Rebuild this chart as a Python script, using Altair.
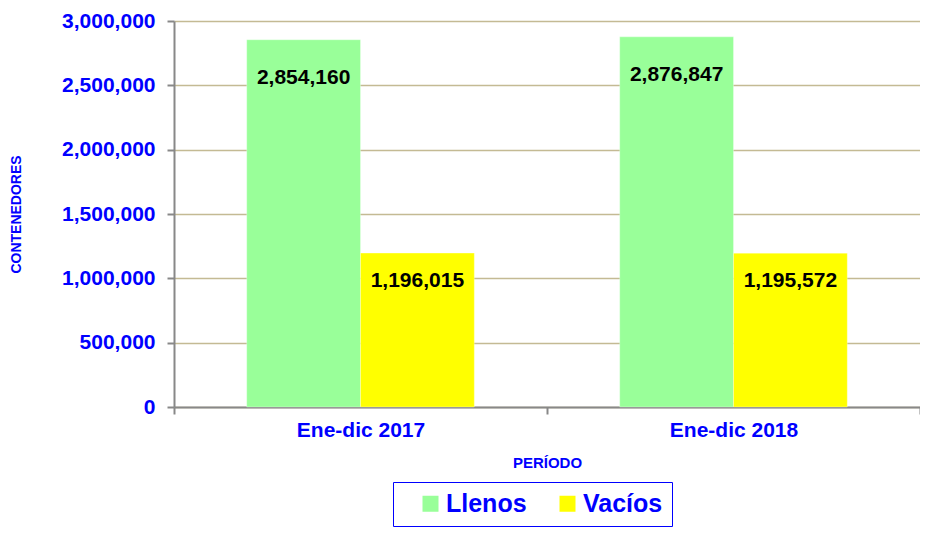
import altair as alt
import pandas as pd

periods = ["Ene-dic 2017", "Ene-dic 2018"]
series = ["Llenos", "Vacíos"]
llenos = [2854160, 2876847]
vacios = [1196015, 1195572]
colors = ["#99FF99", "#FFFF00"]
y_ticks = [0, 500000, 1000000, 1500000, 2000000, 2500000, 3000000]

rows = []
for i, p in enumerate(periods):
    rows.append({"periodo": p, "serie": "Llenos", "valor": llenos[i]})
    rows.append({"periodo": p, "serie": "Vacíos", "valor": vacios[i]})
df = pd.DataFrame(rows)

BLUE = "#0000FF"
FONT = "Liberation Sans"

x_enc = alt.X(
    "periodo:N",
    sort=periods,
    scale=alt.Scale(paddingInner=0, paddingOuter=0),
    axis=alt.Axis(
        title="PERÍODO",
        labelAngle=0,
        labelFont=FONT,
        labelFontWeight="bold",
        labelFontSize=21,
        labelColor=BLUE,
        labelPadding=5,
        titleFont=FONT,
        titleFontWeight="bold",
        titleFontSize=15,
        titleColor=BLUE,
        titlePadding=15,
        tickBand="extent",
        tickSize=7,
        tickColor="#888888",
        tickWidth=2,
        domainColor="#888888",
        domainWidth=2,
        grid=False,
    ),
)

y_enc = alt.Y(
    "valor:Q",
    scale=alt.Scale(domain=[0, 3000000], nice=False),
    axis=alt.Axis(
        title="CONTENEDORES",
        values=y_ticks,
        format=",d",
        labelFont=FONT,
        labelFontWeight="bold",
        labelFontSize=21,
        labelColor=BLUE,
        labelPadding=12,
        titleFont=FONT,
        titleFontWeight="bold",
        titleFontSize=14,
        titleColor=BLUE,
        titlePadding=38,
        tickSize=7,
        tickColor="#888888",
        tickWidth=2,
        domainColor="#888888",
        domainWidth=2,
        gridColor="#C4BA94",
        gridWidth=1.5,
    ),
)

base = alt.Chart(df).encode(
    x=x_enc,
    xOffset=alt.XOffset(
        "serie:N",
        sort=series,
        scale=alt.Scale(paddingInner=0, paddingOuter=0.639),
    ),
)

bars = base.mark_bar(stroke="#FFFFFF", strokeWidth=0.5, strokeOpacity=0.6).encode(
    y=y_enc,
    color=alt.Color(
        "serie:N",
        sort=series,
        scale=alt.Scale(domain=series, range=colors),
        legend=alt.Legend(
            title=None,
            orient="none",
            legendX=219,
            legendY=461,
            direction="horizontal",
            symbolType="square",
            symbolSize=256,
            symbolStrokeWidth=0,
            symbolOffset=16,
            labelFont=FONT,
            labelFontWeight="bold",
            labelFontSize=25,
            labelColor=BLUE,
            labelOffset=3,
            columnPadding=12,
            strokeColor=BLUE,
            padding=9,
        ),
    ),
)

text_common = dict(font=FONT, fontWeight="bold", fontSize=21, color="#000000", baseline="middle")

text_llenos = base.transform_filter(alt.datum.serie == "Llenos").mark_text(dy=38, **text_common).encode(
    y=alt.Y("valor:Q"),
    text=alt.Text("valor:Q", format=",d"),
)
text_vacios = base.transform_filter(alt.datum.serie == "Vacíos").mark_text(dy=28, **text_common).encode(
    y=alt.Y("valor:Q"),
    text=alt.Text("valor:Q", format=",d"),
)

chart = (
    alt.layer(bars, text_llenos, text_vacios)
    .properties(
        width=746,
        height=386,
        autosize=alt.AutoSizeParams(type="none"),
        padding={"left": 166, "top": 13, "right": 0, "bottom": 122},
        background="#FFFFFF",
    )
    .configure_view(stroke=None)
)

chart.save("out.html", embed_options={"renderer": "svg", "actions": False})
